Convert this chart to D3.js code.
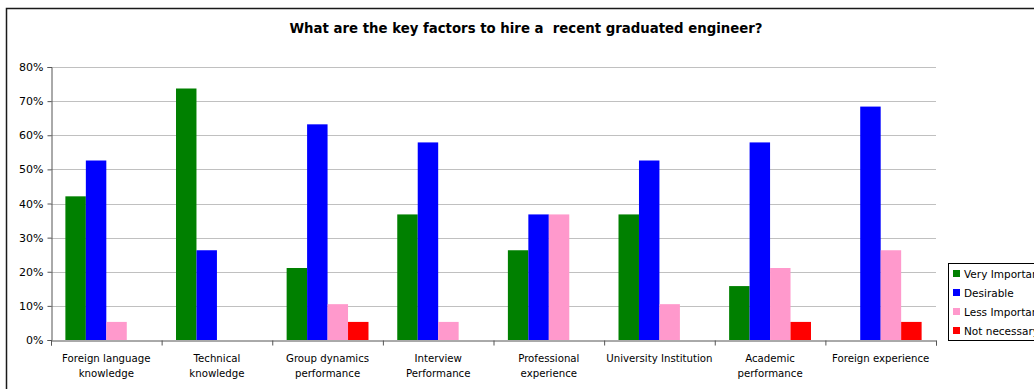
<!DOCTYPE html>
<html>
<head>
<meta charset="utf-8">
<script src="https://cdn.jsdelivr.net/npm/d3@7"></script>
<style>
  html, body { margin: 0; padding: 0; background: #fff; }
  svg { display: block; }
  text { font-family: "DejaVu Sans", Verdana, sans-serif; fill: #000; }
</style>
</head>
<body>
<svg id="chart" width="1034" height="389"></svg>
<script>
// Survey answers: share of respondents per factor and rating
const categories = [
  ["Foreign language", "knowledge"],
  ["Technical", "knowledge"],
  ["Group dynamics", "performance"],
  ["Interview", "Performance"],
  ["Professional", "experience"],
  ["University Institution"],
  ["Academic", "performance"],
  ["Foreign experience"]
];
const seriesNames = ["Very Important", "Desirable", "Less Important", "Not necessary"];
const veryImportant = [0.421, 0.737, 0.211, 0.368, 0.263, 0.368, 0.158, 0];
const desirable     = [0.526, 0.263, 0.632, 0.579, 0.368, 0.526, 0.579, 0.684];
const lessImportant = [0.053, 0,     0.105, 0.053, 0.368, 0.105, 0.211, 0.263];
const notNecessary  = [0,     0,     0.053, 0,     0,     0,     0.053, 0.053];
const yTicks = [0, 0.1, 0.2, 0.3, 0.4, 0.5, 0.6, 0.7, 0.8];
const colors = ["#008000", "#0000FF", "#FF99CC", "#FF0000"];
const title = "What are the key factors to hire a\u00A0 recent graduated engineer?";

const series = [veryImportant, desirable, lessImportant, notNecessary];
const svg = d3.select("#chart");

// outer chart frame
svg.append("rect")
  .attr("x", 6.5).attr("y", 8.5)
  .attr("width", 1100).attr("height", 420)
  .attr("fill", "none").attr("stroke", "#1a1a1a").attr("stroke-width", 1.5);

const plot = { left: 51, right: 936, top: 67, bottom: 340 };

const x0 = d3.scaleBand()
  .domain(d3.range(categories.length))
  .range([plot.left, plot.right])
  .paddingInner(0.26).paddingOuter(0.13);
const x1 = d3.scaleBand()
  .domain(d3.range(series.length))
  .range([0, x0.bandwidth()]);
const y = d3.scaleLinear().domain([0, 0.8]).range([plot.bottom, plot.top]);

// horizontal gridlines
svg.append("g").selectAll("line")
  .data(yTicks.filter(t => t > 0))
  .join("line")
  .attr("x1", plot.left).attr("x2", plot.right)
  .attr("y1", d => Math.round(y(d)) + 0.5).attr("y2", d => Math.round(y(d)) + 0.5)
  .attr("stroke", "#C0C0C0").attr("stroke-width", 1);

// bars
const groups = svg.append("g").selectAll("g")
  .data(categories.map((c, i) => i))
  .join("g")
  .attr("transform", i => `translate(${x0(i)},0)`);
groups.selectAll("rect")
  .data(i => series.map((s, k) => ({ k, v: s[i] })).filter(d => d.v > 0))
  .join("rect")
  .attr("x", d => x1(d.k))
  .attr("width", x1.bandwidth())
  .attr("y", d => y(d.v))
  .attr("height", d => y(0) - y(d.v))
  .attr("fill", d => colors[d.k]);

// y axis
const yAxis = svg.append("g")
  .attr("transform", `translate(${plot.left + 0.5},0)`)
  .call(d3.axisLeft(y).tickValues(yTicks).tickFormat(d3.format(".0%")).tickSize(4).tickPadding(4));
yAxis.select(".domain").attr("stroke", "#555");
yAxis.selectAll(".tick line").attr("stroke", "#555");
yAxis.selectAll(".tick text").attr("font-size", 11).attr("font-family", "DejaVu Sans").attr("fill", "#000");

// x axis with ticks at category boundaries
const xLin = d3.scaleLinear().domain([0, categories.length]).range([plot.left, plot.right]);
const xAxis = svg.append("g")
  .attr("transform", `translate(0,${plot.bottom + 0.5})`)
  .call(d3.axisBottom(xLin).tickValues(d3.range(categories.length + 1)).tickSize(5).tickFormat(""));
xAxis.select(".domain").attr("stroke", "#555");
xAxis.selectAll(".tick line").attr("stroke", "#555");

// category labels
const lab = svg.append("g").selectAll("text")
  .data(categories)
  .join("text")
  .attr("text-anchor", "middle")
  .attr("font-size", 10.2)
  .attr("x", (c, i) => x0(i) + x0.bandwidth() / 2)
  .attr("y", 362);
lab.selectAll("tspan")
  .data(c => c)
  .join("tspan")
  .attr("x", function() { return this.parentNode.getAttribute("x"); })
  .attr("dy", (d, j) => j === 0 ? 0 : 15)
  .text(d => d);

// title
svg.append("text")
  .attr("x", 526).attr("y", 33)
  .attr("text-anchor", "middle")
  .attr("font-weight", "bold")
  .attr("font-size", 13.3)
  .text(title);

// legend
const lg = svg.append("g").attr("transform", "translate(948,263)");
lg.append("rect")
  .attr("x", 0.5).attr("y", 0.5).attr("width", 120).attr("height", 77)
  .attr("fill", "#fff").attr("stroke", "#000").attr("stroke-width", 1);
const items = lg.selectAll("g.item")
  .data(seriesNames)
  .join("g")
  .attr("class", "item")
  .attr("transform", (d, i) => `translate(5,${11 + i * 19})`);
items.append("rect")
  .attr("x", 0).attr("y", -4).attr("width", 7).attr("height", 7)
  .attr("fill", (d, i) => colors[i]);
items.append("text")
  .attr("x", 11).attr("y", 4)
  .attr("font-size", 10.5)
  .text(d => d);
</script>
</body>
</html>
